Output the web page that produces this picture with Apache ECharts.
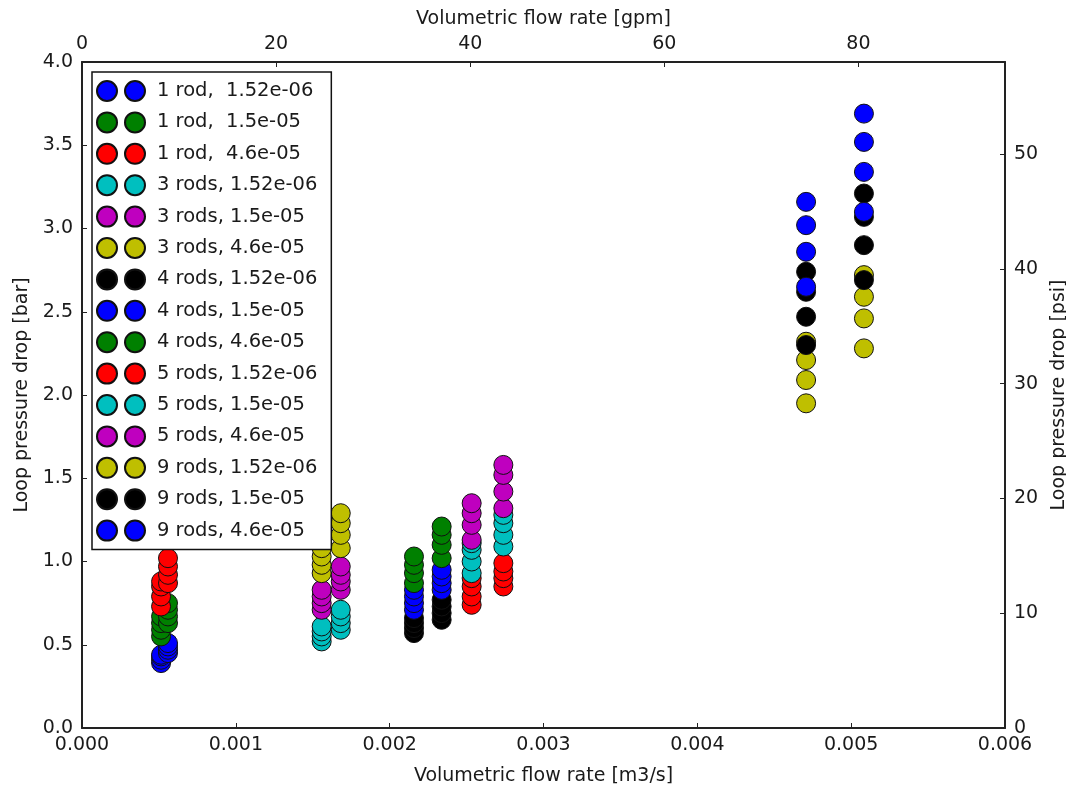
<!DOCTYPE html>
<html>
<head>
<meta charset="utf-8">
<script src="https://cdn.jsdelivr.net/npm/echarts@6/dist/echarts.min.js"></script>
<style>html,body{margin:0;padding:0;background:#fff}#c{width:1066px;height:790px}</style>
</head>
<body>
<div id="c"></div>
<script>
// Flow-rate columns (m3/s) for each rod group: [low, high]
const flow1rod = [0.000514, 0.000559];
const flow3rods = [0.001558, 0.001682];
const flow4rods = [0.002158, 0.002338];
const flow5rods = [0.002533, 0.002739];
const flow9rods = [0.004707, 0.005083];

// Pressure drop [bar] per series: [values at low flow], [values at high flow]
const p_1rod_152e06 = [[0.39, 0.41, 0.43, 0.44], [0.45, 0.47, 0.49, 0.51]];
const p_1rod_15e05  = [[0.55, 0.59, 0.63, 0.67], [0.63, 0.67, 0.71, 0.75]];
const p_1rod_46e05  = [[0.73, 0.79, 0.85, 0.88], [0.87, 0.92, 0.97, 1.02]];
const p_3rods_152e06 = [[0.52, 0.55, 0.58, 0.61], [0.59, 0.63, 0.67, 0.71]];
const p_3rods_15e05  = [[0.71, 0.75, 0.79, 0.83], [0.83, 0.88, 0.92, 0.97]];
const p_3rods_46e05  = [[0.93, 0.98, 1.03, 1.08], [1.08, 1.16, 1.23, 1.29]];
const p_4rods_152e06 = [[0.57, 0.60, 0.63, 0.66], [0.65, 0.69, 0.73, 0.77]];
const p_4rods_15e05  = [[0.71, 0.75, 0.79, 0.83], [0.83, 0.87, 0.91, 0.95]];
const p_4rods_46e05  = [[0.87, 0.93, 0.98, 1.03], [1.02, 1.10, 1.16, 1.21]];
const p_5rods_152e06 = [[0.74, 0.79, 0.85, 0.90], [0.85, 0.90, 0.94, 0.99]];
const p_5rods_15e05  = [[0.93, 1.00, 1.07, 1.11], [1.09, 1.16, 1.23, 1.28]];
const p_5rods_46e05  = [[1.13, 1.22, 1.29, 1.35], [1.32, 1.42, 1.52, 1.58]];
const p_9rods_152e06 = [[1.95, 2.09, 2.21, 2.32], [2.28, 2.46, 2.59, 2.72]];
const p_9rods_15e05  = [[2.30, 2.47, 2.62, 2.74], [2.69, 2.90, 3.07, 3.21]];
const p_9rods_46e05  = [[2.65, 2.86, 3.02, 3.16], [3.10, 3.34, 3.52, 3.69]];

const seriesNames = [
  '1 rod,  1.52e-06', '1 rod,  1.5e-05', '1 rod,  4.6e-05',
  '3 rods, 1.52e-06', '3 rods, 1.5e-05', '3 rods, 4.6e-05',
  '4 rods, 1.52e-06', '4 rods, 1.5e-05', '4 rods, 4.6e-05',
  '5 rods, 1.52e-06', '5 rods, 1.5e-05', '5 rods, 4.6e-05',
  '9 rods, 1.52e-06', '9 rods, 1.5e-05', '9 rods, 4.6e-05'
];
const seriesFlows = [flow1rod, flow1rod, flow1rod, flow3rods, flow3rods, flow3rods,
  flow4rods, flow4rods, flow4rods, flow5rods, flow5rods, flow5rods, flow9rods, flow9rods, flow9rods];
const seriesPressures = [p_1rod_152e06, p_1rod_15e05, p_1rod_46e05, p_3rods_152e06, p_3rods_15e05, p_3rods_46e05,
  p_4rods_152e06, p_4rods_15e05, p_4rods_46e05, p_5rods_152e06, p_5rods_15e05, p_5rods_46e05,
  p_9rods_152e06, p_9rods_15e05, p_9rods_46e05];
const seriesColors = ['#0000ff', '#008000', '#ff0000', '#00bfbf', '#bf00bf', '#bfbf00', '#000000',
  '#0000ff', '#008000', '#ff0000', '#00bfbf', '#bf00bf', '#bfbf00', '#000000', '#0000ff'];

const M3S_TO_GPM = 15850.32;
const BAR_TO_PSI = 14.5038;
const xMax = 0.006, yMax = 4.0;

const font = 'DejaVu Sans';
const lblStyle = { color: '#1a1a1a', fontFamily: font, fontSize: 19 };

const series = seriesNames.map((name, i) => {
  const data = [];
  seriesPressures[i].forEach((col, c) => col.forEach(v => data.push([seriesFlows[i][c], v])));
  return {
    name, type: 'scatter', xAxisIndex: 0, yAxisIndex: 0,
    symbol: 'circle', symbolSize: 19, data,
    itemStyle: { color: seriesColors[i], borderColor: '#111', borderWidth: 1, opacity: 1 },
    emphasis: { disabled: true }, animation: false
  };
});

const axisCommon = {
  axisLine: { show: true, onZero: false, lineStyle: { color: '#222', width: 2 } },
  axisTick: { show: true, inside: true, length: 5, lineStyle: { color: '#222', width: 1 } },
  splitLine: { show: false },
  nameTextStyle: lblStyle,
  nameLocation: 'middle'
};

const chart = echarts.init(document.getElementById('c'), null, { renderer: 'canvas' });
chart.setOption({
  animation: false,
  backgroundColor: '#fff',
  grid: { left: 82, right: 61, top: 62, bottom: 62, containLabel: false, outerBoundsMode: 'none' },
  legend: {
    orient: 'vertical', left: 92, top: 72,
    padding: [8, 14, 8, 4],
    itemWidth: 48, itemHeight: 20, itemGap: 9.4,
    icon: 'path://M0,10a10,10 0 1,0 20,0a10,10 0 1,0 -20,0 M28,10a10,10 0 1,0 20,0a10,10 0 1,0 -20,0',
    backgroundColor: '#fff', borderColor: '#111', borderWidth: 1.5, borderRadius: 0,
    textStyle: { color: '#1a1a1a', fontFamily: font, fontSize: 19.5, lineHeight: 20, padding: [0, 0, 0, 7] },
    data: seriesNames
  },
  xAxis: [
    Object.assign({}, axisCommon, {
      type: 'value', position: 'bottom', min: 0, max: xMax, interval: 0.001,
      name: 'Volumetric flow rate [m3/s]', nameGap: 39,
      axisLabel: Object.assign({}, lblStyle, { margin: 8, formatter: v => v.toFixed(3) })
    }),
    Object.assign({}, axisCommon, {
      type: 'value', position: 'top', min: 0, max: xMax * M3S_TO_GPM, interval: 20,
      name: 'Volumetric flow rate [gpm]', nameGap: 33,
      axisLabel: Object.assign({}, lblStyle, { margin: 8, showMaxLabel: false, formatter: v => String(Math.round(v)) })
    })
  ],
  yAxis: [
    Object.assign({}, axisCommon, {
      type: 'value', position: 'left', min: 0, max: yMax, interval: 0.5,
      name: 'Loop pressure drop [bar]', nameGap: 46,
      axisLabel: Object.assign({}, lblStyle, { margin: 9, formatter: v => v.toFixed(1) })
    }),
    Object.assign({}, axisCommon, {
      type: 'value', position: 'right', min: 0, max: yMax * BAR_TO_PSI, interval: 10,
      name: 'Loop pressure drop [psi]', nameGap: 34,
      axisLabel: Object.assign({}, lblStyle, { margin: 9, showMaxLabel: false, formatter: v => String(Math.round(v)) })
    })
  ],
  series
});
</script>
</body>
</html>
